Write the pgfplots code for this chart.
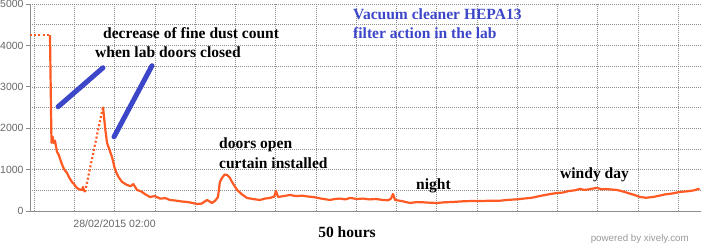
\documentclass[border=0pt]{standalone}
\usepackage{pgfplots}
\pgfplotsset{compat=1.18}
\usepackage{fontspec}
\setmainfont{Liberation Serif}
\newfontfamily\ticksans{Liberation Sans}
\definecolor{dust}{RGB}{255,90,35}
\definecolor{vblue}{RGB}{60,70,200}
\definecolor{gridc}{RGB}{140,140,140}
\begin{document}
\begin{tikzpicture}
\path[use as bounding box] (0,0) rectangle (702bp,250bp);
\begin{axis}[
  at={(30bp,39bp)}, anchor=south west,
  scale only axis, width=671bp, height=207bp,
  xmin=-0.3, xmax=49.7, ymin=0, ymax=5000,
  axis x line*=bottom, axis y line*=left,
  axis line style={gridc, -, line width=0.7bp},
  xtick={0,3,...,48},
  xticklabels={,,28/02/2015 02:00},
  xtick style={draw=none},
  ytick={0,1000,...,5000},
  minor ytick={500,1500,...,4500},
  ytick style={gridc, line width=0.7bp},
  tick align=outside, major tick length=4bp,
  minor tick length=0pt,
  xmajorgrids, ymajorgrids, yminorgrids,
  major grid style={gridc, line width=0.6bp, dash pattern=on 1bp off 1bp},
  minor grid style={gridc, line width=0.6bp, dash pattern=on 1bp off 1bp},
  /pgf/number format/assume math mode=true,
  /pgf/number format/1000 sep={},
  yticklabel style={font=\ticksans\fontsize{10.5}{12}\selectfont, text=black!60, xshift=1bp},
  xticklabel style={font=\ticksans\fontsize{10.6}{12}\selectfont, text=black!60, yshift=-1bp},
  clip=false,
]
% dotted gaps
\addplot[dust, line width=2.2bp, dash pattern=on 2bp off 2.2bp] coordinates {(-0.3,4250) (1.19,4250)};
\addplot[dust, line width=2.2bp, dash pattern=on 2bp off 2.2bp] coordinates {(3.80,460) (5.14,2517)};
% solid part 1
\addplot[dust, line width=2.2bp, line join=round] coordinates {
(1.19,4250) (1.30,1650) (1.38,1800) (1.45,1640) (1.56,1700) (1.71,1430) (1.85,1350)
(2.0,1200) (2.16,1065) (2.3,980) (2.46,920) (2.6,820) (2.83,700) (3.0,640) (3.20,555)
(3.4,520) (3.58,510) (3.65,580) (3.72,500) (3.80,460)};
% solid part 2
\addplot[dust, line width=2.2bp, line join=round] coordinates {
(5.14,2517) (5.30,2000) (5.44,1645) (5.6,1500) (5.81,1307) (6.0,1050) (6.11,944)
(6.3,820) (6.56,702) (6.93,629) (7.2,600) (7.4,650) (7.68,508) (8.0,470) (8.3,400)
(8.64,339) (9.0,360) (9.4,300) (9.8,310) (10.13,266) (10.6,250) (11.0,230) (11.5,215)
(12.15,169) (12.5,180) (12.89,266) (13.26,194) (13.5,250) (13.71,339) (13.85,700)
(14.01,799) (14.2,880) (14.38,871) (14.6,800) (14.75,702) (15.13,508) (15.5,400)
(15.87,315) (16.3,290) (16.84,266) (17.2,300) (17.59,315) (17.9,350) (18.03,484)
(18.18,339) (18.6,360) (19.08,387) (19.5,360) (20,370) (20.4,350) (20.79,339)
(21.4,300) (22.06,266) (22.4,290) (22.8,300) (23.2,280) (23.55,315) (24.07,290)
(24.5,300) (25,280) (25.5,290) (26.01,266) (26.4,260) (26.6,300) (26.75,411)
(26.9,266) (27.4,240) (28.02,194) (28.5,215) (29,210) (29.5,200) (30.03,194)
(30.6,210) (31.3,220) (32,235) (32.71,242) (33.4,240) (34,250) (34.6,245) (35.25,266)
(35.9,280) (36.5,300) (37.1,320) (37.70,363) (38.3,400) (38.97,436) (39.4,445)
(39.8,480) (40.3,500) (40.69,532) (41.0,510) (41.3,520) (41.6,540) (41.95,557)
(42.3,525) (42.6,530) (43.0,520) (43.44,508) (43.9,470) (44.3,430) (44.7,390)
(45.16,339) (45.6,320) (46.13,339) (46.6,370) (47,400) (47.5,420) (48.14,460)
(48.8,480) (49.2,500) (49.48,532) (49.6,520)};
% blue pointer lines
\addplot[vblue, line width=5bp, line cap=round] coordinates {(1.79,2517) (5.14,3461)};
\addplot[vblue, line width=5bp, line cap=round] coordinates {(5.96,1791) (8.79,3509)};
\end{axis}
\begin{scope}[every node/.style={inner sep=0pt, font=\bfseries\fontsize{15.6}{17}\selectfont}]
\node[anchor=west] at (103bp,217bp) {decrease of fine dust count};
\node[anchor=west] at (95bp,198bp) {when lab doors closed};
\node[anchor=west] at (219bp,105bp) {doors open};
\node[anchor=west] at (219bp,87bp) {curtain installed};
\node[anchor=west] at (416bp,64bp) {night};
\node[anchor=west] at (560bp,75bp) {windy day};
\node[anchor=west, text=vblue] at (353bp,236bp) {Vacuum cleaner HEPA13};
\node[anchor=west, text=vblue] at (353bp,217bp) {filter action in the lab};
\node at (347bp,18bp) {50 hours};
\end{scope}
\node[anchor=east, inner sep=0pt, text=black!40, font=\ticksans\fontsize{9.8}{11}\selectfont] at (689bp,11bp) {powered by xively.com};
\end{tikzpicture}
\end{document}
